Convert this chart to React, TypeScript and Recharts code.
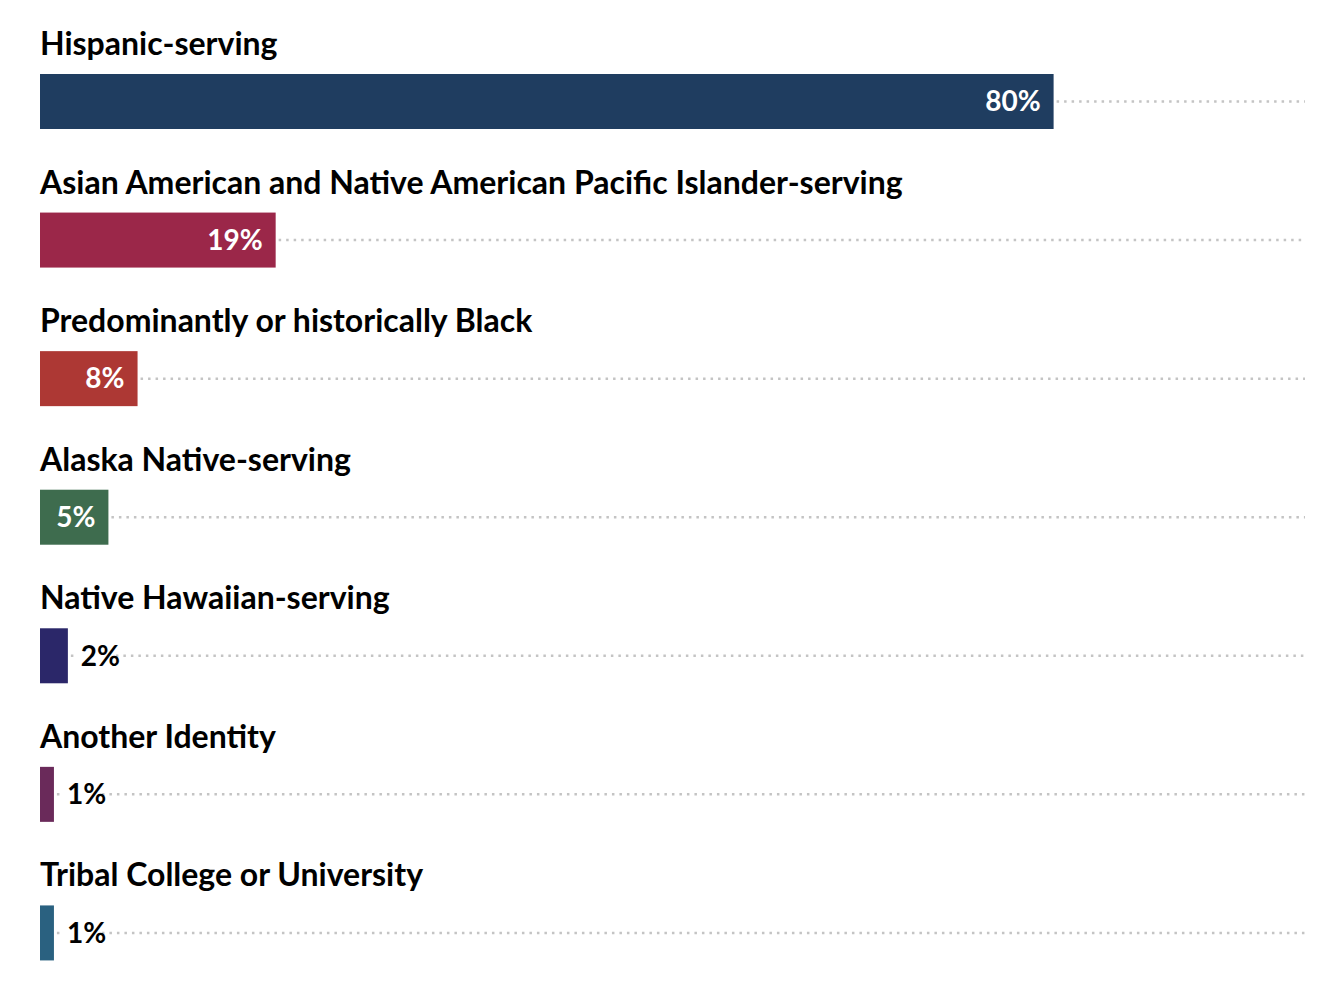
import { BarChart, Bar, XAxis, YAxis } from "recharts";

const categories = [
  "Hispanic-serving",
  "Asian American and Native American Pacific Islander-serving",
  "Predominantly or historically Black",
  "Alaska Native-serving",
  "Native Hawaiian-serving",
  "Another Identity",
  "Tribal College or University",
];
const shares = [80, 18.6, 7.7, 5.4, 2.2, 1.1, 1.1];
const colors = ["#1f3d60", "#9b2749", "#ad3834", "#3e6c4e", "#2b2769", "#6a2a5a", "#2a6180"];

const data = categories.map((name, i) => ({ name, value: shares[i], color: colors[i] }));

const W = 1344;
const H = 1008;
const margin = { top: 32, right: 37, bottom: 6, left: 40 };
const FONT = "Lato, 'Open Sans', sans-serif";

const RowShape = (props: any) => {
  const { x, y, width, height, payload } = props;
  const cy = y + height / 2;
  const right = W - margin.right;
  const inside = payload.value >= 5;
  const label = `${Math.round(payload.value)}%`;
  return (
    <g>
      <line x1={x + width + 3} x2={right - 2} y1={cy} y2={cy} stroke="#c4c4c4" strokeWidth={2.5} strokeDasharray="2.5 5" />
      <rect x={x} y={y} width={width} height={height} fill={payload.color} />
      <text x={x} y={y - 19} fontFamily={FONT} fontWeight={700} fontSize={32} fill="#000">
        {payload.name}
      </text>
      {inside ? (
        <text x={x + width - 13} y={cy} dy="0.35em" textAnchor="end" fontFamily={FONT} fontWeight={700} fontSize={28} fill="#fff">
          {label}
        </text>
      ) : (
        <g>
          <rect x={x + width + 9} y={cy - 14} width={label.length * 15 + 8} height={28} fill="#fff" />
          <text x={x + width + 13} y={cy} dy="0.35em" fontFamily={FONT} fontWeight={700} fontSize={28} fill="#000">
            {label}
          </text>
        </g>
      )}
    </g>
  );
};

export default function App() {
  return (
    <div style={{ position: "absolute", left: 0, top: 0 }}>
      <BarChart width={W} height={H} data={data} layout="vertical" margin={margin}>
        <XAxis type="number" domain={[0, 100]} hide />
        <YAxis type="category" dataKey="name" hide />
        <Bar dataKey="value" barSize={55} isAnimationActive={false} shape={RowShape} />
      </BarChart>
    </div>
  );
}
